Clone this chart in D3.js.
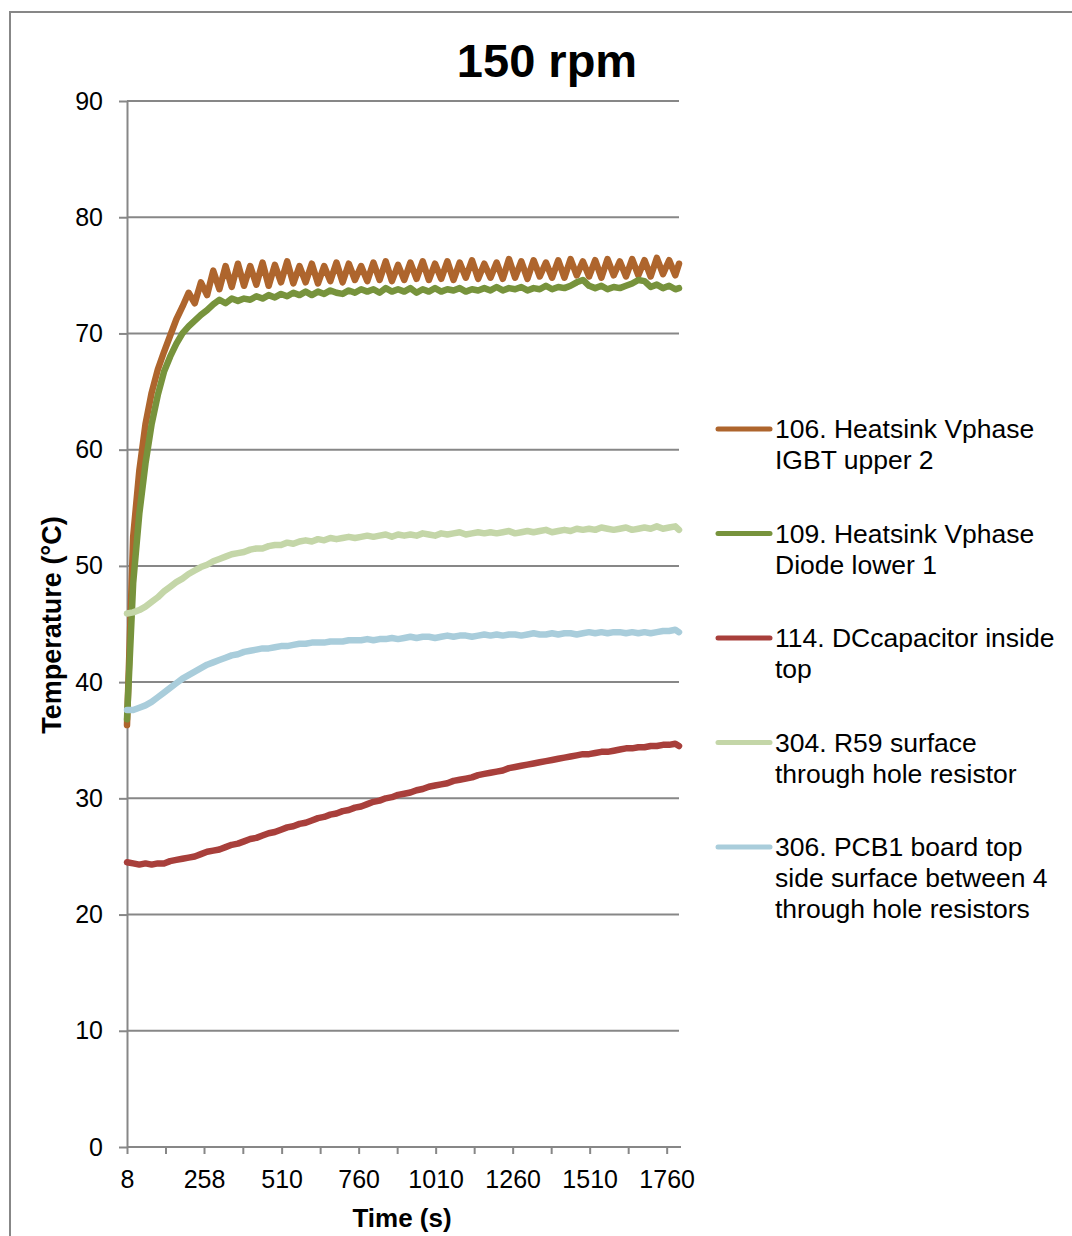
<!DOCTYPE html>
<html>
<head>
<meta charset="utf-8">
<script src="https://d3js.org/d3.v7.min.js"></script>
<style>
    body { margin: 0; background: #fff; }
    svg { display: block; font-family: "Liberation Sans", Arial, sans-serif; }
</style>
</head>
<body>
<svg></svg>
<script>
//==========================================================================
// Data.

var timeSec = [
    8, 28, 48, 68, 88, 108, 128, 148, 168, 188,
    208, 228, 248, 268, 288, 308, 328, 348, 368, 388,
    408, 428, 448, 468, 488, 508, 528, 548, 568, 588,
    608, 628, 648, 668, 688, 708, 728, 748, 768, 788,
    808, 828, 848, 868, 888, 908, 928, 948, 968, 988,
    1008, 1028, 1048, 1068, 1088, 1108, 1128, 1148, 1168, 1188,
    1208, 1228, 1248, 1268, 1288, 1308, 1328, 1348, 1368, 1388,
    1408, 1428, 1448, 1468, 1488, 1508, 1528, 1548, 1568, 1588,
    1608, 1628, 1648, 1668, 1688, 1708, 1728, 1748, 1768, 1788,
    1800
];

var igbtUpper2 = [
    36.3, 52.5, 58.2, 62.2, 64.9, 66.9, 68.4, 69.8, 71.2, 72.3,
    73.5, 72.6, 74.4, 73.3, 75.4, 73.8, 75.8, 74.0, 76.0, 74.1,
    75.8, 74.2, 76.1, 74.1, 75.9, 74.4, 76.2, 74.3, 75.8, 74.4,
    76.0, 74.3, 75.8, 74.5, 76.1, 74.4, 76.0, 74.6, 75.8, 74.5,
    76.1, 74.6, 76.2, 74.5, 75.9, 74.6, 76.1, 74.7, 76.2, 74.6,
    76.0, 74.7, 76.2, 74.6, 76.1, 74.8, 76.3, 74.7, 76.0, 74.8,
    76.1, 74.7, 76.4, 74.8, 76.2, 74.7, 76.3, 74.9, 76.1, 74.8,
    76.3, 74.8, 76.4, 75.0, 76.2, 74.9, 76.3, 74.8, 76.4, 75.0,
    76.2, 74.9, 76.4, 75.0, 76.3, 74.9, 76.5, 75.1, 76.3, 75.0,
    76.0
];

var diodeLower1 = [
    36.8, 48.5, 54.5, 58.8, 62.2, 64.7, 66.7, 68.0, 69.1, 70.0,
    70.6, 71.1, 71.6, 72.0, 72.5, 72.9, 72.6, 73.0, 72.8, 73.0,
    72.9, 73.2, 73.0, 73.3, 73.1, 73.4, 73.2, 73.5, 73.3, 73.6,
    73.3, 73.6, 73.4, 73.7, 73.5, 73.4, 73.7, 73.5, 73.8, 73.6,
    73.8, 73.5, 73.9, 73.6, 73.8, 73.6, 73.9, 73.5, 73.8, 73.6,
    73.9, 73.6, 73.8, 73.7, 73.9, 73.6, 73.8, 73.7, 73.9, 73.7,
    74.0, 73.7, 73.9, 73.8, 74.0, 73.7, 73.9, 73.8, 74.1, 73.8,
    74.0, 73.9, 74.1, 74.4, 74.6, 74.1, 73.9, 74.1, 73.8, 74.0,
    73.9, 74.1, 74.3, 74.6, 74.5, 74.0, 74.2, 73.9, 74.1, 73.8,
    73.9
];

var dcCapacitorTop = [
    24.5, 24.4, 24.3, 24.4, 24.3, 24.4, 24.4, 24.6, 24.7, 24.8,
    24.9, 25.0, 25.2, 25.4, 25.5, 25.6, 25.8, 26.0, 26.1, 26.3,
    26.5, 26.6, 26.8, 27.0, 27.1, 27.3, 27.5, 27.6, 27.8, 27.9,
    28.1, 28.3, 28.4, 28.6, 28.7, 28.9, 29.0, 29.2, 29.3, 29.5,
    29.7, 29.8, 30.0, 30.1, 30.3, 30.4, 30.5, 30.7, 30.8, 31.0,
    31.1, 31.2, 31.3, 31.5, 31.6, 31.7, 31.8, 32.0, 32.1, 32.2,
    32.3, 32.4, 32.6, 32.7, 32.8, 32.9, 33.0, 33.1, 33.2, 33.3,
    33.4, 33.5, 33.6, 33.7, 33.8, 33.8, 33.9, 34.0, 34.0, 34.1,
    34.2, 34.3, 34.3, 34.4, 34.4, 34.5, 34.5, 34.6, 34.6, 34.7,
    34.5
];

var r59Surface = [
    45.9, 46.0, 46.2, 46.5, 46.9, 47.3, 47.8, 48.2, 48.6, 48.9,
    49.3, 49.6, 49.9, 50.1, 50.4, 50.6, 50.8, 51.0, 51.1, 51.2,
    51.4, 51.5, 51.5, 51.7, 51.8, 51.8, 52.0, 51.9, 52.1, 52.2,
    52.1, 52.3, 52.2, 52.4, 52.3, 52.4, 52.5, 52.4, 52.5, 52.6,
    52.5, 52.6, 52.7, 52.5, 52.7, 52.6, 52.7, 52.6, 52.8, 52.7,
    52.6, 52.8, 52.7, 52.8, 52.9, 52.7, 52.8, 52.9, 52.8, 52.9,
    52.8, 52.9, 53.0, 52.8, 52.9, 53.0, 52.9, 53.0, 53.1, 52.9,
    53.0, 53.1, 53.0, 53.2, 53.1, 53.2, 53.1, 53.3, 53.2, 53.1,
    53.2, 53.3, 53.1, 53.2, 53.3, 53.2, 53.4, 53.2, 53.3, 53.4,
    53.1
];

var pcb1TopSide = [
    37.6, 37.6, 37.8, 38.0, 38.3, 38.7, 39.1, 39.5, 39.9, 40.3,
    40.6, 40.9, 41.2, 41.5, 41.7, 41.9, 42.1, 42.3, 42.4, 42.6,
    42.7, 42.8, 42.9, 42.9, 43.0, 43.1, 43.1, 43.2, 43.3, 43.3,
    43.4, 43.4, 43.4, 43.5, 43.5, 43.5, 43.6, 43.6, 43.6, 43.7,
    43.6, 43.7, 43.7, 43.8, 43.7, 43.8, 43.9, 43.8, 43.9, 43.9,
    43.8, 43.9, 44.0, 43.9, 44.0, 44.0, 43.9, 44.0, 44.1, 44.0,
    44.1, 44.0, 44.1, 44.1, 44.0, 44.1, 44.2, 44.1, 44.1, 44.2,
    44.1, 44.2, 44.2, 44.1, 44.2, 44.3, 44.2, 44.3, 44.2, 44.3,
    44.3, 44.2, 44.3, 44.2, 44.3, 44.2, 44.3, 44.4, 44.4, 44.5,
    44.3
];

var seriesNames = [
    ["106. Heatsink Vphase", "IGBT upper 2"],
    ["109. Heatsink Vphase", "Diode lower 1"],
    ["114. DCcapacitor inside", "top"],
    ["304. R59 surface", "through hole resistor"],
    ["306. PCB1 board top", "side surface between 4", "through hole resistors"]
];
var seriesColors = ["#ae652d", "#77933c", "#a83f3b", "#c4d6a8", "#a9cddb"];
var seriesValues = [igbtUpper2, diodeLower1, dcCapacitorTop, r59Surface, pcb1TopSide];

var xLabelTicks = [8, 258, 510, 760, 1010, 1260, 1510, 1760];
var xMinorTicks = [133, 384, 635, 885, 1135, 1385, 1635];
var yTicks = [0, 10, 20, 30, 40, 50, 60, 70, 80, 90];

var chartTitle = "150 rpm";
var xTitle = "Time (s)";
var yTitle = "Temperature (\u00b0C)";


//==========================================================================
// Create the graphic elements.

var width = 1072;
var height = 1236;
var plot = { left: 127, right: 679, top: 101, bottom: 1147 };
var gridColor = "#878787";

var svg = d3.select("svg")
    .attr("width", width)
    .attr("height", height)
;

// Outer chart frame (cut off at the right and bottom).
svg.append("path")
    .attr("d", "M10," + height + "V12H" + width)
    .attr("fill", "none")
    .attr("stroke", gridColor)
    .attr("stroke-width", 2)
;

var xScale = d3.scaleLinear()
    .domain([8, 1800])
    .range([plot.left, plot.right])
;

var yScale = d3.scaleLinear()
    .domain([0, 90])
    .range([plot.bottom, plot.top])
;

// Horizontal gridlines.
svg.append("g")
    .selectAll("line")
    .data(yTicks.filter(function(d) { return d > 0; }))
    .enter()
    .append("line")
    .attr("x1", plot.left)
    .attr("x2", plot.right)
    .attr("y1", function(d) { return yScale(d); })
    .attr("y2", function(d) { return yScale(d); })
    .attr("stroke", gridColor)
    .attr("stroke-width", 2)
;

// Y axis.
var yAxis = svg.append("g")
    .attr("transform", "translate(" + plot.left + ",0)")
    .call(d3.axisLeft(yScale)
        .tickValues(yTicks)
        .tickSize(8)
        .tickPadding(16)
        .tickSizeOuter(0))
;

// X axis.
var xAxis = svg.append("g")
    .attr("transform", "translate(0," + plot.bottom + ")")
    .call(d3.axisBottom(xScale)
        .tickValues(xLabelTicks.concat(xMinorTicks))
        .tickFormat(function(d) { return xLabelTicks.indexOf(d) >= 0 ? d : ""; })
        .tickSize(7)
        .tickPadding(16)
        .tickSizeOuter(0))
;

[xAxis, yAxis].forEach(function(axis) {
    axis.select(".domain").attr("stroke", gridColor).attr("stroke-width", 2);
    axis.selectAll(".tick line").attr("stroke", gridColor).attr("stroke-width", 2);
    axis.selectAll(".tick text")
        .attr("fill", "#000")
        .style("font-size", "25px")
        .style("font-family", "'Liberation Sans', Arial, sans-serif")
    ;
});
xAxis.select(".domain").attr("d", "M" + plot.left + ",0H" + (plot.right + 2));

// Series lines.
var line = d3.line()
    .x(function(d) { return xScale(d[0]); })
    .y(function(d) { return yScale(d[1]); })
;

svg.append("g")
    .selectAll("path")
    .data(seriesValues)
    .enter()
    .append("path")
    .attr("d", function(values) {
        return line(values.map(function(v, i) { return [timeSec[i], v]; }));
    })
    .attr("fill", "none")
    .attr("stroke", function(d, i) { return seriesColors[i]; })
    .attr("stroke-width", 6.5)
    .attr("stroke-linejoin", "round")
    .attr("stroke-linecap", "round")
;

// Titles.
svg.append("text")
    .attr("x", 547)
    .attr("y", 77)
    .attr("text-anchor", "middle")
    .style("font-size", "47px")
    .style("font-weight", "bold")
    .text(chartTitle)
;

svg.append("text")
    .attr("x", 402)
    .attr("y", 1227)
    .attr("text-anchor", "middle")
    .style("font-size", "26px")
    .style("font-weight", "bold")
    .text(xTitle)
;

svg.append("text")
    .attr("transform", "translate(61,625) rotate(-90)")
    .attr("text-anchor", "middle")
    .style("font-size", "27px")
    .style("font-weight", "bold")
    .text(yTitle)
;

// Legend.
var legend = svg.append("g")
    .selectAll("g")
    .data(seriesNames)
    .enter()
    .append("g")
    .attr("transform", function(d, i) { return "translate(0," + (429 + i * 104.5) + ")"; })
;

legend.append("line")
    .attr("x1", 718)
    .attr("x2", 770)
    .attr("stroke", function(d, i) { return seriesColors[i]; })
    .attr("stroke-width", 5)
    .attr("stroke-linecap", "round")
;

legend.append("text")
    .attr("x", 775)
    .attr("y", 9)
    .style("font-size", "26.5px")
    .selectAll("tspan")
    .data(function(d) { return d; })
    .enter()
    .append("tspan")
    .attr("x", 775)
    .attr("dy", function(d, i) { return i === 0 ? 0 : 31; })
    .text(function(d) { return d; })
;
</script>
</body>
</html>
